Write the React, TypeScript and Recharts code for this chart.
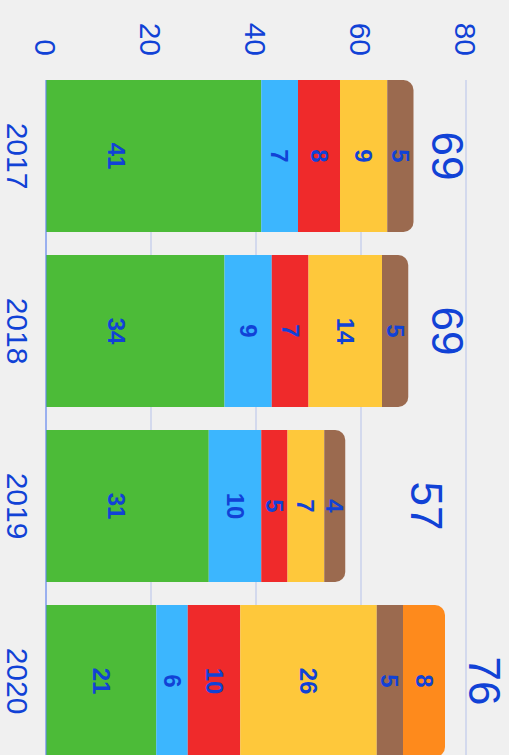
import { ComposedChart, Bar, Line, XAxis, YAxis, CartesianGrid, LabelList, Rectangle } from "recharts";

const years = ["2017", "2018", "2019", "2020"];
const green = [41, 34, 31, 21];
const blue = [7, 9, 10, 6];
const red = [8, 7, 5, 10];
const yellow = [9, 14, 7, 26];
const brown = [5, 5, 4, 5];
const orange = [0, 0, 0, 8];
const totals = [69, 69, 57, 76];
const valueTicks = [0, 20, 40, 60, 80];

const TEXT = "#1142d6";
const FONT = "'Liberation Sans', Arial, sans-serif";

// total labels never sit lower than this value
const TOTAL_FLOOR = 65;

const data = years.map((year, i) => ({
  year,
  green: green[i],
  blue: blue[i],
  red: red[i],
  yellow: yellow[i],
  brown: brown[i],
  orange: orange[i],
  total: totals[i],
  labelAt: Math.max(totals[i], TOTAL_FLOOR),
}));

const SegmentLabel = (props: any) => {
  const { x, y, width, height, value } = props;
  if (!value) return null;
  const bottom = y + height;
  const cy = bottom - Math.min(height / 2, 70);
  return (
    <text
      x={x + width / 2}
      y={cy}
      textAnchor="middle"
      dominantBaseline="central"
      fill={TEXT}
      fontSize={24}
      fontWeight="bold"
    >
      {value}
    </text>
  );
};

const TotalLabel = (props: any) => {
  const { x, y, value } = props;
  return (
    <text x={x} y={y - 24} textAnchor="middle" fill={TEXT} fontSize={44}>
      {value}
    </text>
  );
};

const topShape = (key: string) => (props: any) => {
  const p = props.payload;
  const isTop =
    key === "orange" ? true : key === "brown" ? !p.orange : false;
  return <Rectangle {...props} radius={isTop ? [10, 10, 0, 0] : 0} />;
};

const series = [
  { key: "green", color: "#4cbb38" },
  { key: "blue", color: "#3cb6fe" },
  { key: "red", color: "#ef2a2b" },
  { key: "yellow", color: "#fec83b" },
  { key: "brown", color: "#9b6a4f" },
  { key: "orange", color: "#fe8a1c" },
];

export default function App() {
  return (
    <div
      style={{
        position: "fixed",
        left: 0,
        top: 0,
        width: 509,
        height: 755,
        overflow: "hidden",
        background: "#f0f0f0",
        fontFamily: FONT,
      }}
    >
      <div
        style={{
          position: "absolute",
          left: 0,
          top: 0,
          width: 790,
          height: 509,
          transformOrigin: "0 0",
          transform: "translateX(509px) rotate(90deg)",
        }}
      >
        <ComposedChart
          width={790}
          height={509}
          data={data}
          margin={{ top: 43, right: 10, bottom: 0, left: 0 }}
          barCategoryGap={11.5}
        >
          <CartesianGrid vertical={false} stroke="#b6c2ea" />
          <XAxis
            dataKey="year"
            height={46}
            tickLine={false}
            tickSize={0}
            tickMargin={18}
            axisLine={{ stroke: "#6186f0" }}
            padding={{ left: -11.5, right: 11.5 }}
            tick={{ fill: TEXT, fontSize: 30 }}
          />
          <YAxis
            width={80}
            domain={[0, 80]}
            ticks={valueTicks}
            interval={0}
            axisLine={false}
            tickLine={false}
            tickSize={0}
            tickMargin={24}
            tick={{ fill: TEXT, fontSize: 30 }}
          />
          {series.map((s) => (
            <Bar
              key={s.key}
              dataKey={s.key}
              stackId="a"
              fill={s.color}
              isAnimationActive={false}
              shape={topShape(s.key)}
            >
              <LabelList dataKey={s.key} content={SegmentLabel} />
            </Bar>
          ))}
          <Line
            dataKey="labelAt"
            stroke="none"
            dot={false}
            activeDot={false}
            isAnimationActive={false}
          >
            <LabelList dataKey="total" content={TotalLabel} />
          </Line>
        </ComposedChart>
      </div>
    </div>
  );
}
